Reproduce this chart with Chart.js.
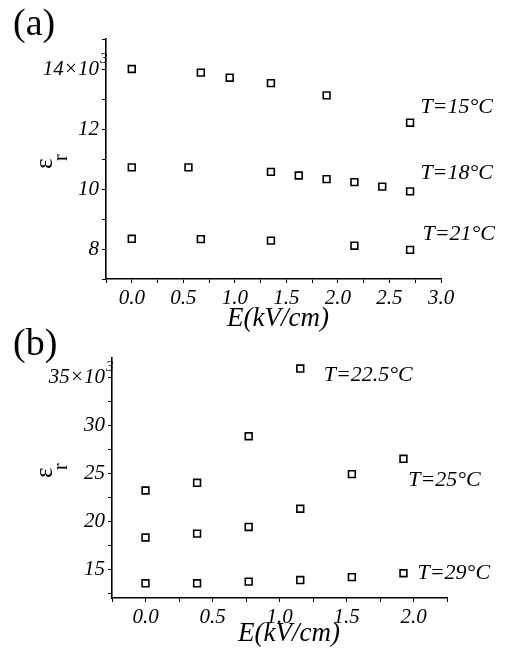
<!DOCTYPE html>
<html lang="en">
<head>
<meta charset="UTF-8">
<title>Permittivity vs field</title>
<script src="https://cdn.jsdelivr.net/npm/chart.js"></script>
<style>
  body { margin: 0; background: #fff; }
  .wrap { position: relative; width: 505px; height: 654px; }
  canvas { position: absolute; left: 0; }
  #chartA { top: 0; }
  #chartB { top: 320px; }
</style>
</head>
<body>
<div class="wrap">
  <canvas id="chartA" width="505" height="340"></canvas>
  <canvas id="chartB" width="505" height="334"></canvas>
</div>
<script>
// ---- panel (a): eps_r (x10^3) vs E (kV/cm) ----
const fieldA15 = [0, 0.67, 0.95, 1.35, 1.89, 2.70];
const epsA15   = [14.0, 13.88, 13.71, 13.53, 13.12, 12.21];
const fieldA18 = [0, 0.55, 1.35, 1.62, 1.89, 2.16, 2.43, 2.70];
const epsA18   = [10.72, 10.72, 10.57, 10.45, 10.33, 10.23, 10.08, 9.92];
const fieldA21 = [0, 0.67, 1.35, 2.16, 2.70];
const epsA21   = [8.34, 8.33, 8.28, 8.11, 7.97];

const xMajorA  = [0, 0.5, 1, 1.5, 2, 2.5, 3];
const xLabelsA = ['0.0', '0.5', '1.0', '1.5', '2.0', '2.5', '3.0'];
const xMinorA  = [-0.25, 0.25, 0.75, 1.25, 1.75, 2.25, 2.75];
const yMajorA  = [8, 10, 12, 14];
const yLabelsA = ['8', '10', '12', '14×10'];
const yMinorA  = [7, 9, 11, 13, 15];

// ---- panel (b) ----
const fieldB   = [0, 0.385, 0.77, 1.155, 1.54, 1.925];
const epsB225  = [23.2, 24.0, 28.85, 35.9];
const epsB25   = [18.3, 18.7, 19.4, 21.3, 24.9, 26.5];
const epsB29   = [13.53, 13.53, 13.7, 13.87, 14.18, 14.58];

const xMajorB  = [0, 0.5, 1, 1.5, 2];
const xLabelsB = ['0.0', '0.5', '1.0', '1.5', '2.0'];
const xMinorB  = [-0.25, 0.25, 0.75, 1.25, 1.75, 2.25];
const yMajorB  = [15, 20, 25, 30, 35];
const yLabelsB = ['15', '20', '25', '30', '35×10'];
const yMinorB  = [12.5, 17.5, 22.5, 27.5, 32.5];

const SERIF = '"Liberation Serif", "Times New Roman", serif';
const TICK_LEN = 4, TICK_PAD = 3;

function points(xs, ys) {
  return ys.map((y, i) => ({ x: xs[i], y: y }));
}

function series(xs, ys) {
  return {
    data: points(xs, ys),
    pointStyle: 'rect',
    pointRadius: 4.8,
    borderColor: '#000',
    backgroundColor: '#fff',
    borderWidth: 1.6,
    showLine: false
  };
}

function axis(min, max, majors, labels, minors, fit) {
  const all = majors.concat(minors).sort((a, b) => a - b);
  return {
    type: 'linear',
    min: min,
    max: max,
    afterBuildTicks: s => { s.ticks = all.map(v => ({ value: v })); },
    afterFit: fit,
    ticks: {
      autoSkip: false,
      maxRotation: 0,
      padding: TICK_PAD,
      color: '#000',
      font: { family: SERIF, size: 21, style: 'italic' },
      callback: v => {
        const i = majors.findIndex(m => Math.abs(m - v) < 1e-6);
        return i >= 0 ? labels[i] : '';
      }
    },
    grid: { drawOnChartArea: false, tickLength: TICK_LEN, color: '#000', lineWidth: 1 },
    border: { color: '#000', width: 1.6 }
  };
}

// draws panel letter, axis titles, the 10^3 exponent and the temperature notes
const panelText = {
  id: 'panelText',
  afterDraw(chart, args, o) {
    const ctx = chart.ctx;
    const sx = chart.scales.x, sy = chart.scales.y;
    ctx.save();
    ctx.fillStyle = '#000';
    ctx.textBaseline = 'alphabetic';

    ctx.textAlign = 'left';
    ctx.font = '38px ' + SERIF;
    ctx.fillText(o.panel, o.panelPos[0], o.panelPos[1]);

    ctx.textAlign = 'center';
    ctx.font = 'italic 27px ' + SERIF;
    ctx.fillText('E(kV/cm)', o.xTitle[0], o.xTitle[1]);

    // exponent of the top tick label
    ctx.textAlign = 'left';
    ctx.font = 'italic 15px ' + SERIF;
    ctx.fillText('3', sy.right - TICK_LEN - TICK_PAD + 1, sy.getPixelForValue(o.expAt) - 6);

    // eps_r written bottom-to-top
    ctx.save();
    ctx.translate(o.yTitle[0], o.yTitle[1]);
    ctx.rotate(-Math.PI / 2);
    ctx.font = '25px ' + SERIF;
    ctx.fillText('ε', 0, 0);
    ctx.font = '20px ' + SERIF;
    ctx.fillText('r', 8, 15);
    ctx.restore();

    ctx.font = 'italic 22px ' + SERIF;
    o.notes.forEach(n => {
      ctx.fillText(n.text, sx.getPixelForValue(n.x), sy.getPixelForValue(n.y));
    });
    ctx.restore();
  }
};

function makeChart(id, datasets, xScale, yScale, pad, text) {
  return new Chart(document.getElementById(id), {
    type: 'scatter',
    data: { datasets: datasets },
    options: {
      responsive: false,
      animation: false,
      devicePixelRatio: 1,
      layout: { padding: pad },
      scales: { x: xScale, y: yScale },
      plugins: {
        legend: { display: false },
        tooltip: { enabled: false },
        panelText: text
      }
    },
    plugins: [panelText]
  });
}

makeChart('chartA',
  [series(fieldA15, epsA15), series(fieldA18, epsA18), series(fieldA21, epsA21)],
  axis(-0.25, 3, xMajorA, xLabelsA, xMinorA, s => { s.height = 41; s.paddingLeft = 0; s.paddingRight = 0; }),
  axis(7, 15, yMajorA, yLabelsA, yMinorA, s => { s.width = 106; s.paddingTop = 0; s.paddingBottom = 0; }),
  { top: 39, right: 64, bottom: 20, left: 0 },
  {
    panel: '(a)', panelPos: [13, 35],
    xTitle: [278, 326],
    yTitle: [52, 169],
    expAt: 14,
    notes: [
      { text: 'T=15°C', x: 2.80, y: 12.54 },
      { text: 'T=18°C', x: 2.80, y: 10.34 },
      { text: 'T=21°C', x: 2.82, y: 8.29 }
    ]
  });

makeChart('chartB',
  [series(fieldB, epsB225), series(fieldB, epsB25), series(fieldB, epsB29)],
  axis(-0.25, 2.25, xMajorB, xLabelsB, xMinorB, s => { s.height = 41; s.paddingLeft = 0; s.paddingRight = 0; }),
  axis(12, 37, yMajorB, yLabelsB, yMinorB, s => { s.width = 112; s.paddingTop = 0; s.paddingBottom = 0; }),
  { top: 38, right: 58, bottom: 15, left: 0 },
  {
    panel: '(b)', panelPos: [13, 35],
    xTitle: [289, 321],
    yTitle: [52, 158],
    expAt: 35,
    notes: [
      { text: 'T=22.5°C', x: 1.33, y: 34.57 },
      { text: 'T=25°C', x: 1.96, y: 23.67 },
      { text: 'T=29°C', x: 2.03, y: 13.94 }
    ]
  });
</script>
</body>
</html>
